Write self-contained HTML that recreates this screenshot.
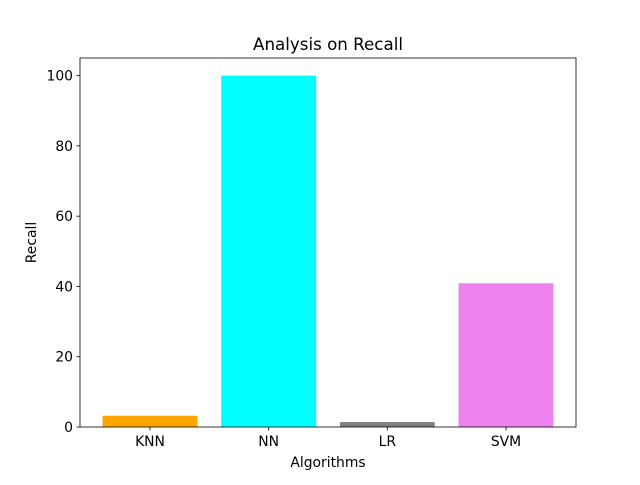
<!DOCTYPE html>
<html><head><meta charset="utf-8"><style>
body{margin:0;background:#fff;}
svg text{font-family:"DejaVu Sans","Liberation Sans",sans-serif;fill:#000;}
</style></head><body>
<svg id="chart" width="640" height="480" viewBox="0 0 640 480" xmlns="http://www.w3.org/2000/svg">
<rect width="640" height="480" fill="#fff"/>
<text x="328" y="50" font-size="16.7" text-anchor="middle">Analysis on Recall</text>
<g id="bars"></g>
<g id="axes"></g>
<text x="328" y="467" font-size="13.9" text-anchor="middle">Algorithms</text>
<text transform="translate(36,242.5) rotate(-90)" font-size="13.9" text-anchor="middle">Recall</text>
</svg>
<script>
const categories = ["KNN","NN","LR","SVM"];
const values = [3.2, 100, 1.4, 40.9];
const colors = ["orange","cyan","grey","violet"];
const yTicks = [0,20,40,60,80,100];

const L=80,R=576,T=58,B=427;
const xMin=-0.59,xMax=3.59,yMin=0,yMax=105;
const xs=v=>L+(v-xMin)/(xMax-xMin)*(R-L);
const ys=v=>B-(v-yMin)/(yMax-yMin)*(B-T);
const NS="http://www.w3.org/2000/svg";
const bars=document.getElementById('bars'), axes=document.getElementById('axes');
function mk(tag,attrs,parent){const e=document.createElementNS(NS,tag);for(const k in attrs)e.setAttribute(k,attrs[k]);parent.appendChild(e);return e;}
categories.forEach((c,i)=>{
  const r=mk('rect',{x:xs(i-0.4),y:ys(values[i]),width:xs(i+0.4)-xs(i-0.4),height:ys(0)-ys(values[i]),fill:colors[i]},bars);
  
  
  const t=mk('line',{x1:xs(i),x2:xs(i),y1:B,y2:B+3.5,stroke:'#000','stroke-width':0.8},axes);
  
  
  const lb=mk('text',{x:xs(i),y:B+19,'font-size':13.9,'text-anchor':'middle'},axes);
  lb.textContent=c;
  
  
});
yTicks.forEach(v=>{
  const t=mk('line',{x1:L-3.5,x2:L,y1:ys(v),y2:ys(v),stroke:'#000','stroke-width':0.8},axes);
  
  
  const lb=mk('text',{x:L-7,y:ys(v)+5,'font-size':13.9,'text-anchor':'end'},axes);
  lb.textContent=v;
  
  
});
const f=mk('rect',{x:L,y:T,width:R-L,height:B-T,fill:'none',stroke:'#000','stroke-width':0.8},axes);


</script>
</body></html>
